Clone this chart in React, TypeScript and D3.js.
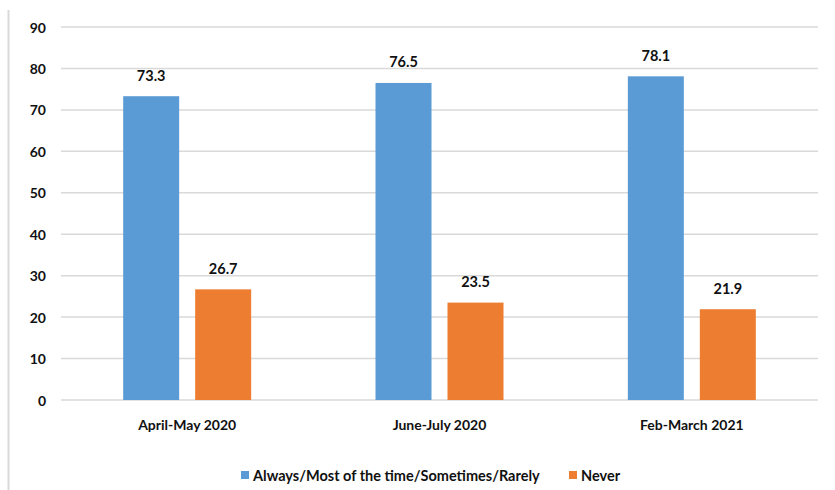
import React from "react";
import * as d3 from "d3";

const categories = ["April-May 2020", "June-July 2020", "Feb-March 2021"];
const seriesNames = ["Always/Most of the time/Sometimes/Rarely", "Never"];
const alwaysValues = [73.3, 76.5, 78.1];
const neverValues = [26.7, 23.5, 21.9];
const yTicks = [0, 10, 20, 30, 40, 50, 60, 70, 80, 90];
const colors = ["#5b9bd5", "#ed7d31"];

const W = 835;
const H = 490;
const plotLeft = 61;
const plotRight = 818;
const plotTop = 27;
const plotBottom = 400;
const font = "Lato, 'Open Sans', sans-serif";

export default function App() {
  const x = d3
    .scaleBand<string>()
    .domain(categories)
    .range([plotLeft, plotRight])
    .paddingInner(0)
    .paddingOuter(0);
  const y = d3.scaleLinear().domain([0, 90]).range([plotBottom, plotTop]);

  const barW = 56;
  const gap = 16;
  const series = [alwaysValues, neverValues];

  return (
    <svg
      width={W}
      height={H}
      style={{ position: "absolute", left: 0, top: 0, background: "#fff" }}
      fontFamily={font}
    >
      <line x1={8.5} x2={8.5} y1={10} y2={H} stroke="#d9d9d9" strokeWidth={2} />
      {yTicks.map((t) => (
        <g key={t}>
          <line
            x1={plotLeft}
            x2={plotRight}
            y1={y(t)}
            y2={y(t)}
            stroke="#d9d9d9"
            strokeWidth={1.5}
          />
          <text
            x={46}
            y={y(t)}
            textAnchor="end"
            dominantBaseline="central"
            fontSize={14}
            fontWeight={700}
            fill="#111"
          >
            {t}
          </text>
        </g>
      ))}
      {categories.map((c, i) => {
        const cx = (x(c) as number) + x.bandwidth() / 2;
        return (
          <g key={c}>
            {series.map((vals, s) => {
              const bx = s === 0 ? cx - gap / 2 - barW : cx + gap / 2;
              const v = vals[i];
              return (
                <g key={s}>
                  <rect
                    x={bx}
                    y={y(v)}
                    width={barW}
                    height={plotBottom - y(v)}
                    fill={colors[s]}
                  />
                  <text
                    x={bx + barW / 2}
                    y={y(v) - 21}
                    textAnchor="middle"
                    dominantBaseline="central"
                    fontSize={14.5}
                    fontWeight={700}
                    fill="#111"
                  >
                    {v.toFixed(1)}
                  </text>
                </g>
              );
            })}
            <text
              x={cx}
              y={424}
              textAnchor="middle"
              dominantBaseline="central"
              fontSize={14}
              fontWeight={700}
              fill="#111"
            >
              {c}
            </text>
          </g>
        );
      })}
      <g>
        <rect x={241} y={471} width={8} height={8} fill={colors[0]} />
        <text x={253} y={475} dominantBaseline="central" fontSize={14.5} fontWeight={700} fill="#111">
          {seriesNames[0]}
        </text>
        <rect x={569} y={471} width={8} height={8} fill={colors[1]} />
        <text x={581} y={475} dominantBaseline="central" fontSize={14.5} fontWeight={700} fill="#111">
          {seriesNames[1]}
        </text>
      </g>
    </svg>
  );
}
